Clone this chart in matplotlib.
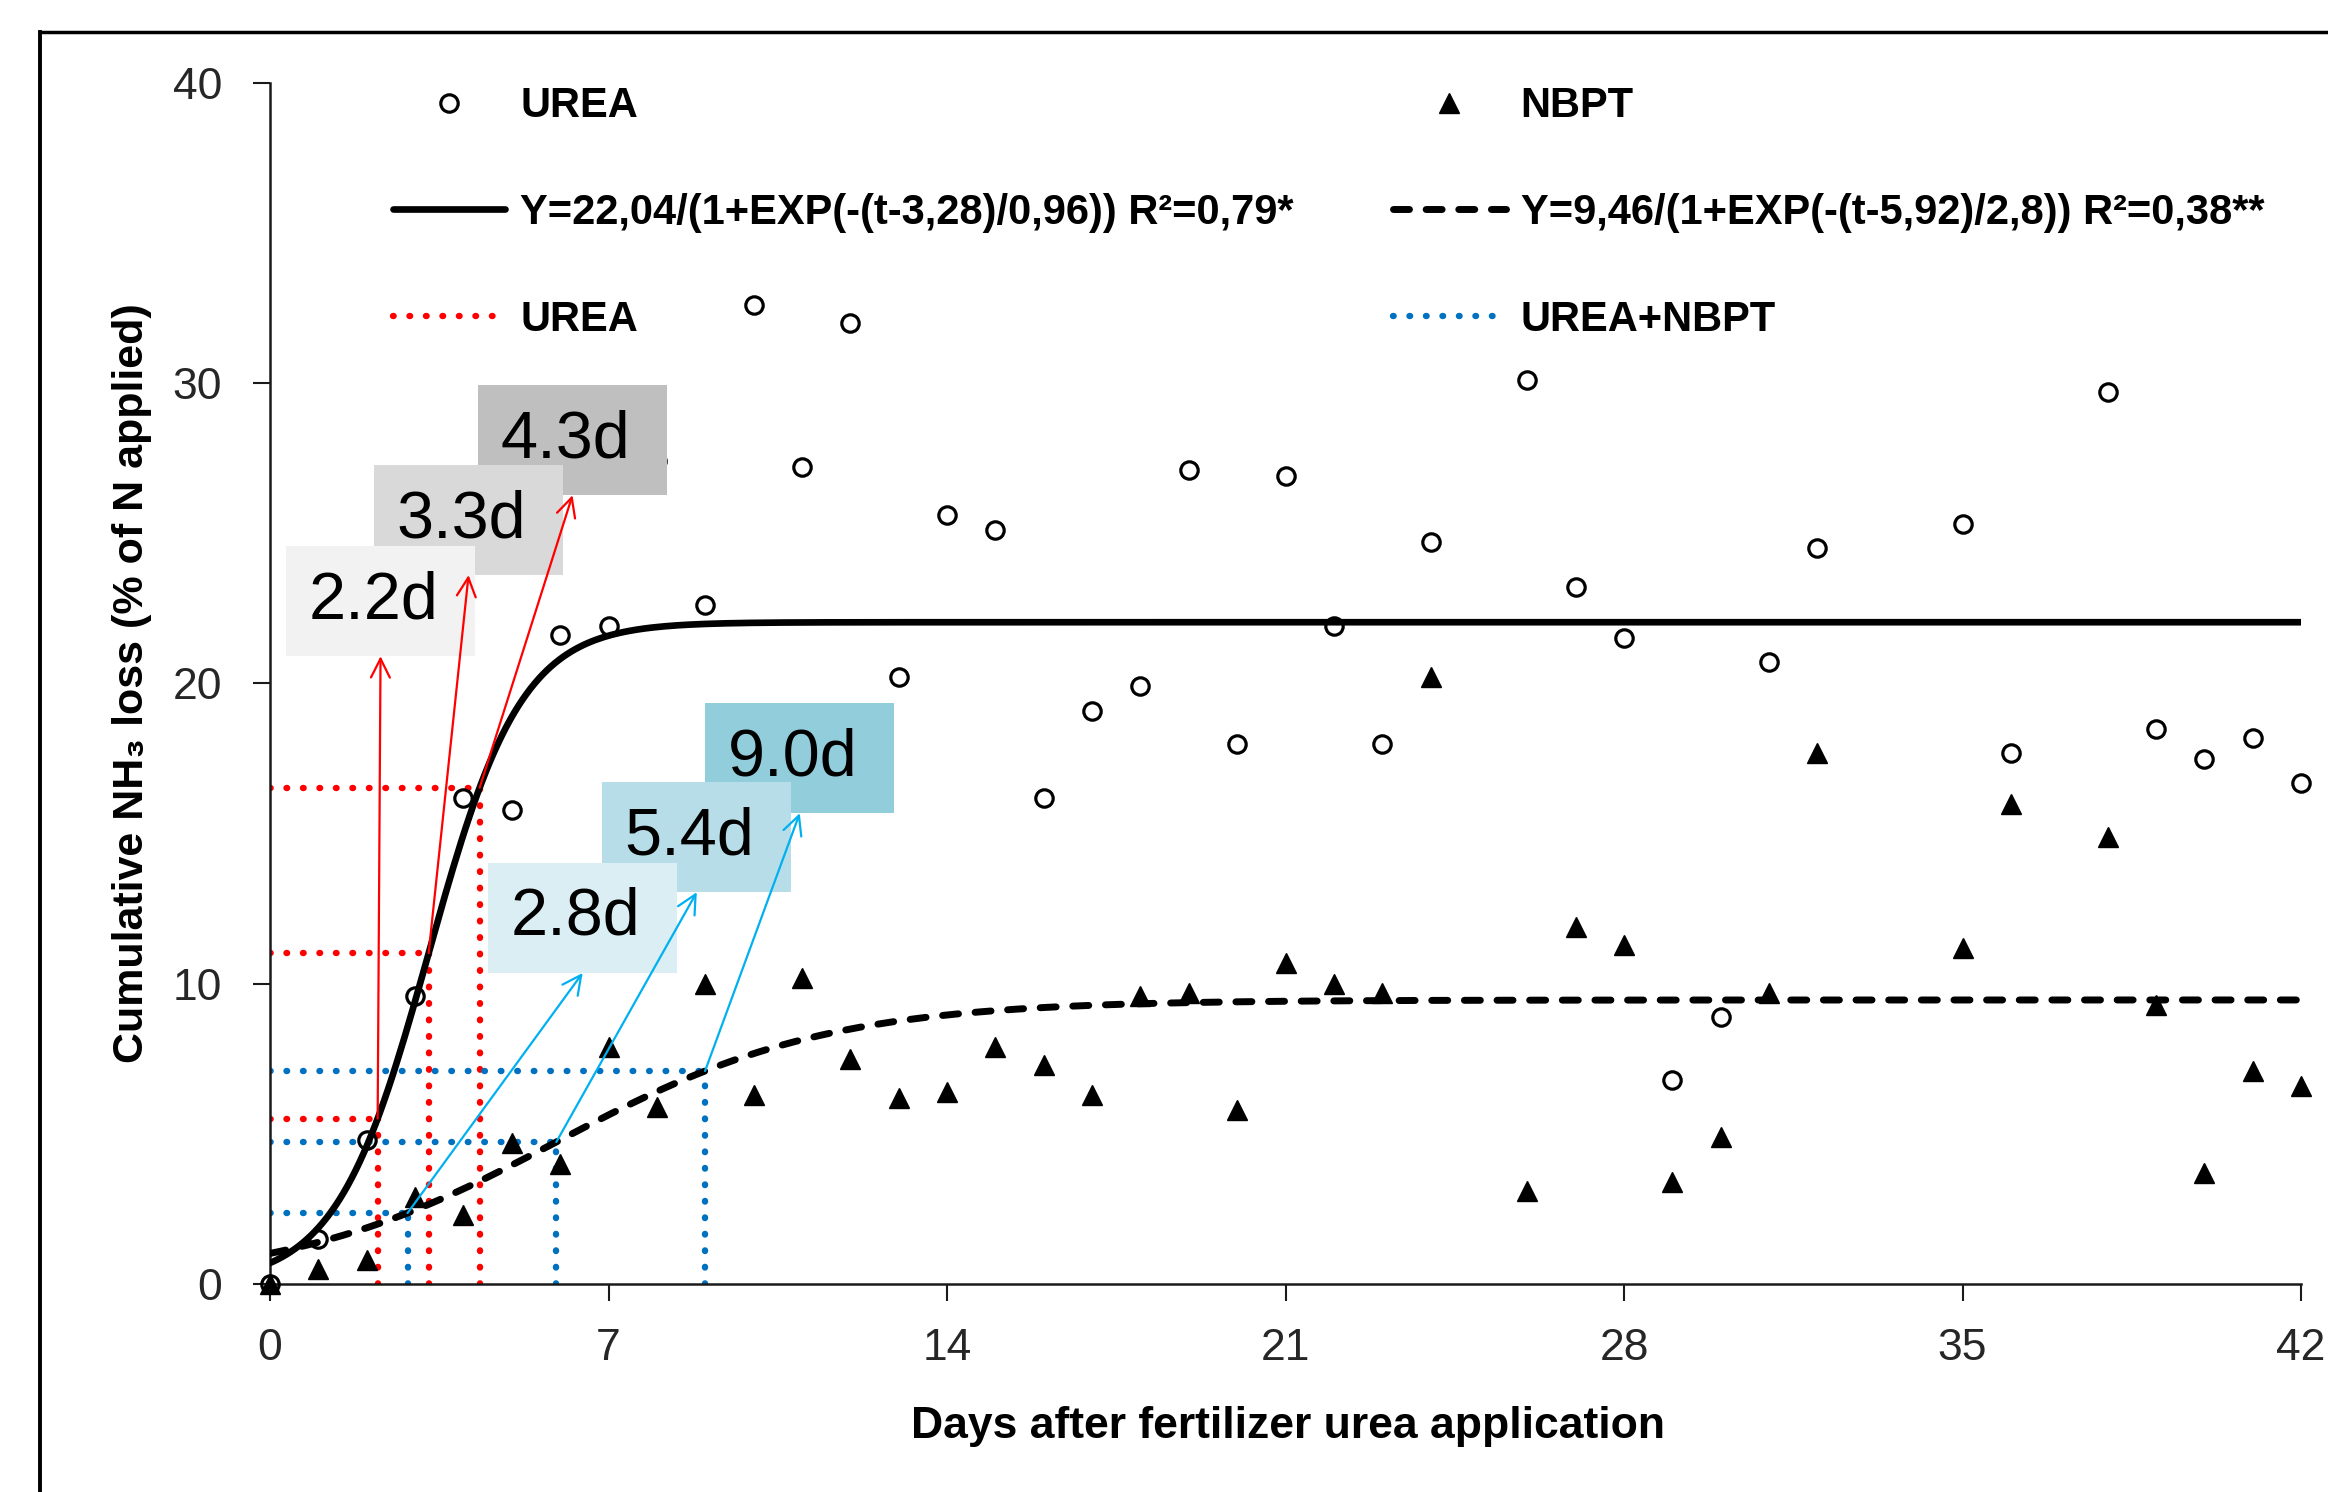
import numpy as np
import matplotlib
matplotlib.use("Agg")
import matplotlib.pyplot as plt
from matplotlib.lines import Line2D
from matplotlib.patches import Rectangle

# measured cumulative NH3 loss (% of N applied)
days = [0, 1, 2, 3, 4, 5, 6, 7, 8, 9, 10, 11, 12, 13, 14, 15, 16, 17, 18, 19, 20,
        21, 22, 23, 24, 26, 27, 28, 29, 30, 31, 32, 35, 36, 38, 39, 40, 41, 42]
urea = [0, 1.5, 4.8, 9.6, 16.2, 15.8, 21.6, 21.9, 27.4, 22.6, 32.6, 27.2, 32.0, 20.2,
        25.6, 25.1, 16.2, 19.1, 19.9, 27.1, 18.0, 26.9, 21.9, 18.0, 24.7, 30.1, 23.2,
        21.5, 6.8, 8.9, 20.7, 24.5, 25.3, 17.7, 29.7, 18.5, 17.5, 18.2, 16.7]
nbpt = [0, 0.5, 0.8, 2.9, 2.3, 4.7, 4.0, 7.9, 5.9, 10.0, 6.3, 10.2, 7.5, 6.2,
        6.4, 7.9, 7.3, 6.3, 9.6, 9.7, 5.8, 10.7, 10.0, 9.7, 20.2, 3.1, 11.9,
        11.3, 3.4, 4.9, 9.7, 17.7, 11.2, 16.0, 14.9, 9.3, 3.7, 7.1, 6.6]

# logistic fits  Y = a / (1 + exp(-(t - t0) / b))
urea_fit = (22.04, 3.28, 0.96)
nbpt_fit = (9.46, 5.92, 2.8)
urea_fit_label = "Y=22,04/(1+EXP(-(t-3,28)/0,96)) R²=0,79*"
nbpt_fit_label = "Y=9,46/(1+EXP(-(t-5,92)/2,8)) R²=0,38**"
guide_fractions = [0.25, 0.5, 0.75]

urea_day_labels = ["2.2d", "3.3d", "4.3d"]
nbpt_day_labels = ["2.8d", "5.4d", "9.0d"]

# layout of the label boxes (left, bottom in data units)
urea_boxes = [(0.33, 20.91), (2.15, 23.61), (4.30, 26.27)]
nbpt_boxes = [(4.51, 10.36), (6.87, 13.05), (9.00, 15.68)]
box_w, box_h = 3.91, 3.66
urea_box_colors = ["#F2F2F2", "#D9D9D9", "#BFBFBF"]
nbpt_box_colors = ["#DAEEF3", "#B7DEE8", "#92CDDC"]

font_list = ["Liberation Sans", "DejaVu Sans"]
plt.rcParams["font.family"] = font_list


def logistic(t, a, t0, b):
    return a / (1 + np.exp(-(t - t0) / b))


def guide_points(a, t0, b):
    pts = []
    for p in guide_fractions:
        pts.append((t0 - b * np.log((1 - p) / p), a * p))
    return pts


fig = plt.figure(figsize=(23.28, 14.92), dpi=100)
ax = fig.add_axes([0.1160, 0.1394, 0.8724, 0.8050])

t = np.linspace(0, 42, 500)
fit_u, = ax.plot(t, logistic(t, *urea_fit), color="black", lw=4.8, zorder=3,
                 solid_capstyle="round")
fit_n, = ax.plot(t, logistic(t, *nbpt_fit), color="black", lw=5.0, zorder=3,
                 dashes=(2.3, 2.4), dash_capstyle="round")

dot_style = dict(lw=4.6, linestyle=(0, (0.1, 2.48)), dash_capstyle="round", zorder=2)
guide_handles = []
for fit, color in [(urea_fit, "#FF0000"), (nbpt_fit, "#0070C0")]:
    for tx, ty in guide_points(*fit):
        h, = ax.plot([0, tx], [ty, ty], color=color, **dot_style)
        ax.plot([tx, tx], [0, ty], color=color, **dot_style)
    guide_handles.append(h)

pts_u, = ax.plot(days, urea, "o", ms=12.5, mfc="none", mec="black", mew=2.3,
                 zorder=4, clip_on=False)
pts_n, = ax.plot(days, nbpt, "^", ms=14.5, mfc="black", mec="black",
                 zorder=4, clip_on=False)

# label boxes with arrows from the 25/50/75 % points
groups = [
    (urea_fit, urea_day_labels, urea_boxes, urea_box_colors, "#FF0000"),
    (nbpt_fit, nbpt_day_labels, nbpt_boxes, nbpt_box_colors, "#00B0F0"),
]
for fit, labels, boxes, colors, arrow_color in groups:
    corners = guide_points(*fit)
    for i in range(len(labels)):
        z = 5.6 - i * 0.2
        bx, by = boxes[i]
        ax.add_patch(Rectangle((bx, by), box_w, box_h, facecolor=colors[i],
                               edgecolor="none", zorder=z))
        ax.text(bx + box_w / 2 - 0.15, by + box_h / 2, labels[i], fontsize=48,
                ha="center", va="center", color="black", zorder=z + 0.1)
        ax.annotate("", xy=(bx + box_w / 2, by), xytext=corners[i],
                    arrowprops=dict(arrowstyle="->", color=arrow_color, lw=1.6,
                                    mutation_scale=34, shrinkA=0, shrinkB=0),
                    zorder=8)

ax.set_xlim(0, 42)
ax.set_ylim(0, 40)
ax.set_xticks([0, 7, 14, 21, 28, 35, 42])
ax.set_yticks([0, 10, 20, 30, 40])
for side in ["top", "right"]:
    ax.spines[side].set_visible(False)
for side in ["left", "bottom"]:
    ax.spines[side].set_linewidth(1.8)
    ax.spines[side].set_color("#1a1a1a")
ax.tick_params(axis="x", direction="out", length=12.5, width=1.5, pad=19,
               labelsize=32, labelcolor="#262626", color="#1a1a1a")
ax.tick_params(axis="y", direction="out", length=12.5, width=1.5, pad=22,
               labelsize=32, labelcolor="#262626", color="#1a1a1a")

ax.set_xlabel("Days after fertilizer urea application", fontsize=32,
              fontweight="bold", va="center")
ax.xaxis.set_label_coords(0.501, -0.119)
ax.set_ylabel("Cumulative NH₃ loss (% of N applied)", fontsize=31,
              fontweight="bold", va="center")
ax.yaxis.set_label_coords(-0.068, 0.5)

leg_kw = dict(loc="upper left", frameon=False, borderpad=0, borderaxespad=0,
              handlelength=2.7, handletextpad=0.36, labelspacing=1.60,
              numpoints=1, prop={"family": font_list, "weight": "bold", "size": 30})
fig.legend([pts_u, fit_u, guide_handles[0]], ["UREA", urea_fit_label, "UREA"],
           bbox_to_anchor=(0.1688, 0.9421), **leg_kw)
fig.legend([pts_n, fit_n, guide_handles[1]], ["NBPT", nbpt_fit_label, "UREA+NBPT"],
           bbox_to_anchor=(0.5984, 0.9421), **leg_kw)

# outer frame (cut off at right and bottom)
fig.add_artist(Line2D([0.0172, 1.0], [0.9786, 0.9786], color="black", lw=2.5))
fig.add_artist(Line2D([0.0172, 0.0172], [0.0, 0.9786], color="black", lw=2.8))

fig.savefig("out.png", dpi=100)
